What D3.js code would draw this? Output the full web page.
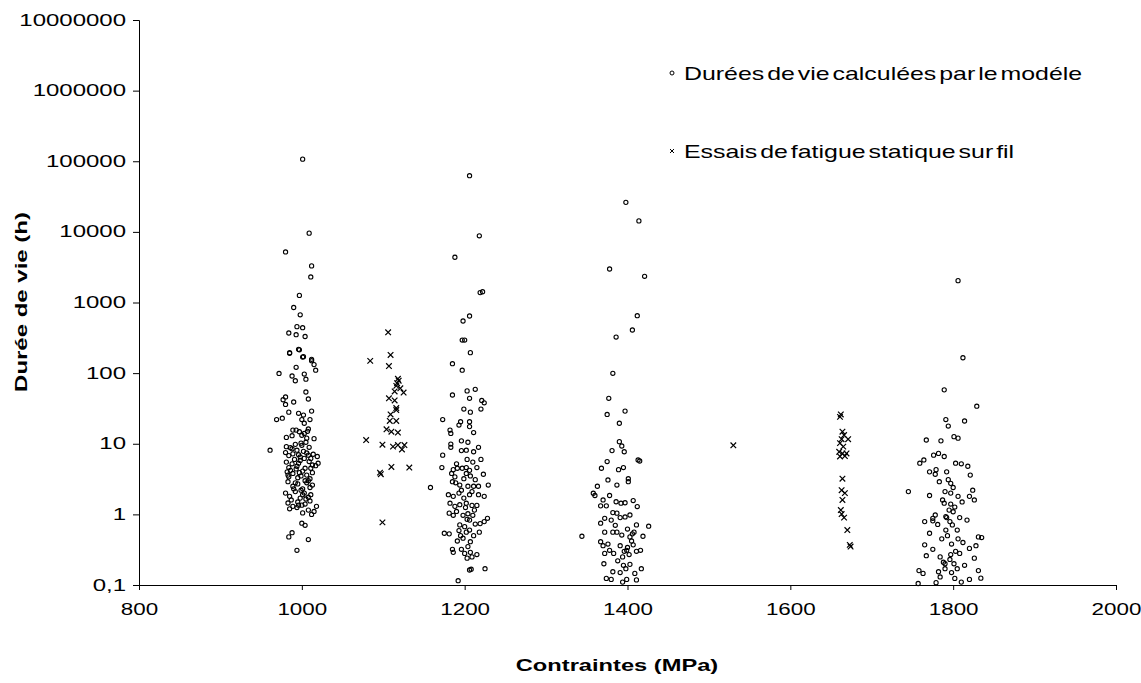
<!DOCTYPE html>
<html><head><meta charset="utf-8">
<script src="https://cdn.jsdelivr.net/npm/d3@7"></script>
<style>
body{margin:0;background:#fff;}
svg{display:block;font-family:"Liberation Sans",Arial,sans-serif;}
.stretch{transform-box:fill-box;transform-origin:center;transform:scaleX(1.4);}
.stretchX{transform-box:fill-box;transform-origin:center;transform:scaleX(1.48);}
.stretchR{transform-box:fill-box;transform-origin:right center;transform:scaleX(1.5);}
.stretchL{transform-box:fill-box;transform-origin:left center;transform:scaleX(1.31);word-spacing:-3px;}
</style></head>
<body>
<svg id="chart" width="1141" height="683"></svg>
<script>
// ---- data ----
const xTickValues = [800, 1000, 1200, 1400, 1600, 1800, 2000];
const yTickValues = [0.1, 1, 10, 100, 1000, 10000, 100000, 1000000, 10000000];
const yTickLabels = ["0,1", "1", "10", "100", "1000", "10000", "100000", "1000000", "10000000"];
const legendLabels = ["Durées de vie calculées par le modéle", "Essais de fatigue statique sur fil"];
const xTitle = "Contraintes (MPa)";
const yTitle = "Durée de vie (h)";

// model-computed lifetimes [stress MPa, life h]
const model1000 = [
 [1001,107000],[1009,9600],[980,5200],[1012,3300],[1011,2300],[997,1260],[990,850],[998,670],
 [994,455],[1001,440],[984,370],[993,350],[1004,330],[985,195],[996,217],[1001,169],[1012,157],
 [985,191],[997,214],[1002,171],[1012,150],[1015,132],[1017,110],[993,121],[972,99],[988,91],
 [1003,97],[992,78],[1005,82],[980,46],[977,42],[990,39],[1005,54],[1008,43],[980,36],[969,22],
 [976,23],[984,28],[996,27],[1002,25.5],[1012,29],[1000,22],[1010,22],[1003,19.5],[989,15.6],
 [993,15.6],[997,14.8],[1008,16.2],[1000,13.2],[981,12.3],[1006,12],[1015,11.8],[961,8.1],
 [981,9.1],[988,8.5],[1000,9.5],[994,8.1],
 [980,7.5],[984,6.8],[989,7.2],[998,6.5],[1002,7.8],[1008,6.9],[1014,7.1],[1019,6.6],
 [981,5.5],[984,4.6],[988,5.2],[994,4.8],[998,5.8],[1004,4.5],[1013,5.0],[1017,4.9],[1020,5.3],
 [982,4.0],[984,3.4],[989,3.8],[995,3.3],[1001,4.1],[1006,3.6],[1010,3.2],[1013,3.9],
 [983,2.9],[989,2.5],[995,2.7],[1001,2.3],[1006,2.8],[1010,2.4],
 [980,2.0],[985,1.8],[992,2.1],[998,1.7],[1001,1.9],[1008,1.75],
 [983,1.45],[989,1.3],[995,1.5],[1000,1.35],[1004,1.4],
 [985,1.2],[1001,1.05],[1008,1.15],[1012,1.0],[1015,1.1],
 [1000,0.75],[1004,0.7],[988,0.55],[984,0.48],[1008,0.44],[994,0.31],
 [986,8.8],[992,9.8],[1005,10.5],[1009,8.9],[999,10.2],[1003,6.2],[991,6.0],[996,5.3],[1009,5.6],
 [983,3.6],[997,3.9],[1004,3.0],[1011,4.5],[992,2.8],[999,2.2],[1013,2.6],[987,1.6],[1005,1.65],
 [1011,1.9],[994,1.25],[1003,14],[1007,15],[988,13],
 [996,7.0],[1006,7.4],[1011,6.2],[986,4.2],[993,4.4],[999,3.5],[1008,3.0],[990,2.3],[1003,2.0],
 [996,1.35],[1010,1.55],[1018,1.3]
];
const model1200 = [
 [1206,62400],[1218,8800],[1188,4370],[1219,1380],[1222,1420],[1198,547],[1206,644],[1197,294],
 [1200,294],[1207,195],[1185,136],[1197,110],
 [1185,49],[1203,56],[1213,59],[1206,44],[1221,41],[1224,38],[1199,31],[1207,28],[1220,31],
 [1173,22],[1195,20.5],[1193,18.4],[1206,20.5],[1206,17.5],[1182,15.6],[1183,14],[1211,14.4],
 [1183,9.9],[1183,8.9],[1196,8],[1202,8.1],[1211,7.7],[1217,8.9],[1203,6],[1220,6],[1173,6.9],
 [1172,4.6],[1186,4.3],[1191,4.5],[1197,4.5],[1202,4.6],[1206,4.2],[1215,4.6],
 [1184,3.8],[1188,3.4],[1202,3.8],[1207,3.5],[1223,3.7],
 [1158,2.4],[1185,2.9],[1189,2.8],[1194,2.6],[1204,2.5],[1211,2.5],[1217,2.5],[1229,2.6],
 [1180,1.9],[1186,1.8],[1193,2.0],[1199,1.7],[1206,1.9],[1217,1.9],[1224,1.8],
 [1182,1.44],[1188,1.3],[1194,1.37],[1202,1.44],[1209,1.34],[1215,1.34],
 [1181,1.04],[1186,0.97],[1198,0.97],[1204,1.02],[1206,0.83],[1210,0.97],[1213,0.73],[1219,0.74],
 [1228,0.88],[1224,0.79],[1194,0.71],[1200,0.67],
 [1175,0.54],[1181,0.53],[1193,0.59],[1202,0.56],[1206,0.6],[1198,0.46],[1218,0.56],
 [1191,0.42],[1207,0.41],[1185,0.32],[1186,0.29],[1196,0.32],[1200,0.28],[1207,0.29],[1209,0.25],
 [1215,0.27],[1203,0.24],[1208,0.167],[1206,0.163],[1225,0.17],[1192,0.115],
 [1196,11],[1204,10.5],[1190,5.2],[1210,5.5],[1199,3.2],[1213,3.1],[1196,2.2],[1209,2.1],
 [1201,1.25],[1190,1.1],[1212,1.15],[1203,0.85],[1195,0.5],[1211,0.5],[1204,0.35]
];
const model1400 = [
 [1398,26200],[1414,14300],[1378,2980],[1421,2350],[1412,650],[1406,408],[1386,324],[1382,99.5],
 [1377,44],[1375,26],[1397,29],[1390,19.5],[1390,10.7],[1393,9.3],[1396,7.7],[1381,8],
 [1413,5.9],[1415,5.7],[1375,5.6],[1368,4.5],[1389,4.3],[1395,4.6],[1376,3.07],[1401,3.2],
 [1401,2.9],[1363,2.5],[1387,2.6],[1358,1.99],[1360,1.85],[1378,1.85],[1370,1.6],[1386,1.51],
 [1392,1.44],[1397,1.46],[1407,1.57],[1367,1.32],[1374,1.32],[1412,1.29],[1382,1.06],[1387,1.04],
 [1372,0.88],[1380,0.83],[1391,0.9],[1397,0.92],[1403,0.98],[1367,0.75],[1411,0.71],[1426,0.68],
 [1344,0.49],[1372,0.56],[1382,0.56],[1387,0.56],[1393,0.51],[1403,0.48],[1406,0.53],[1408,0.56],
 [1419,0.49],[1367,0.41],[1370,0.36],[1376,0.38],[1378,0.31],[1372,0.28],[1383,0.28],[1391,0.36],
 [1394,0.25],[1399,0.31],[1402,0.27],[1407,0.37],[1411,0.3],[1416,0.31],[1371,0.2],[1382,0.154],
 [1391,0.15],[1398,0.17],[1403,0.196],[1409,0.146],[1417,0.17],[1374,0.124],[1380,0.12],
 [1394,0.11],[1399,0.12],[1411,0.118],
 [1396,0.3],[1400,0.34],[1405,0.42],[1388,0.22],[1395,0.19],[1385,0.7],[1400,0.62]
];
const model1800 = [
 [1806,2040],[1789,58],[1791,22],[1794,17.8],[1801,12.6],[1767,11.3],[1785,11],[1759,5.3],
 [1764,5.9],[1776,6.9],[1782,7.3],[1789,6.6],[1803,5.3],[1771,4.0],[1779,4.3],[1778,3.7],
 [1783,2.9],[1792,4.0],[1794,3.1],[1797,2.75],[1745,2.1],[1771,1.85],[1790,2.1],[1797,2.0],
 [1806,1.8],[1789,1.44],[1797,1.4],[1802,1.27],[1800,1.09],[1765,0.79],[1775,0.88],[1775,0.81],
 [1778,0.98],[1791,0.93],[1796,0.79],[1799,0.71],[1805,0.6],[1791,0.6],[1771,0.54],[1765,0.37],
 [1775,0.32],[1767,0.26],[1788,0.21],[1790,0.2],[1796,0.23],[1801,0.2],[1758,0.16],[1763,0.146],
 [1782,0.154],[1790,0.17],[1798,0.15],[1805,0.17],[1784,0.13],[1802,0.124],[1757,0.105],[1779,0.108],
 [1812,165],[1814,21],[1829,34],[1806,12],[1810,5.2],[1818,4.8],[1821,3.6],[1824,2.2],[1820,1.8],
 [1811,1.5],[1826,1.6],[1817,0.83],[1808,0.9],[1831,0.48],[1835,0.47],[1820,0.33],[1812,0.4],
 [1826,0.24],[1831,0.16],[1814,0.19],[1808,0.28],[1834,0.125],[1820,0.12],[1810,0.11],[1828,0.36],
 [1786,0.45],[1793,0.5],[1798,0.38],[1803,0.3],[1781,0.72],[1795,1.15],[1787,1.6],[1800,2.4],
 [1784,0.25],[1797,0.27],[1806,0.45],[1792,0.9]
];
// static fatigue tests on wire [stress MPa, life h]
const tests = [
 [1106,378],[1109,181],[1084,149],[1107,126],[1118,83],[1116,66],[1121,61],[1125,53],[1114,55],
 [1107,44],[1114,41],[1116,32],[1116,30],[1109,26],[1108,21],[1116,21],[1104,16],[1110,14.8],
 [1118,14.4],[1079,11.3],[1099,9.7],[1112,9.1],[1118,9.6],[1126,9.6],[1123,8.3],[1110,4.7],
 [1132,4.6],[1096,3.9],[1097,3.7],[1099,0.77],[1119,78],[1117,72],
 [1530,9.5],
 [1662,26],[1661,24],[1664,14.8],[1666,13.3],[1671,11.6],[1663,11.6],[1661,10.2],[1665,9.1],
 [1660,7.7],[1664,7.3],[1669,7.3],[1667,6.7],[1661,6.6],[1664,3.2],[1663,2.2],[1667,2.0],
 [1664,1.6],[1662,1.15],[1663,1.01],[1666,0.9],[1670,0.6],[1673,0.37],[1674,0.35]
];
const modelAll = model1000.concat(model1200, model1400, model1800);

// ---- chart ----
const svg = d3.select("#chart");
const x = d3.scaleLinear().domain([800, 2000]).range([139, 1116]);
const y = d3.scaleLog().domain([0.1, 10000000]).range([585, 20]);

const xAxis = svg.append("g").attr("transform", "translate(0,585)")
  .call(d3.axisBottom(x).tickValues(xTickValues).tickSizeOuter(0).tickSize(5).tickPadding(14)
    .tickFormat(d3.format("d")));
const yAxis = svg.append("g").attr("transform", "translate(139,0)")
  .call(d3.axisLeft(y).tickValues(yTickValues).tickSizeOuter(0).tickSize(6).tickPadding(7)
    .tickFormat((d, i) => yTickLabels[i]));
[xAxis, yAxis].forEach(g => {
  g.select(".domain").attr("stroke", "#000").attr("stroke-width", 1);
  g.selectAll(".tick line").attr("stroke", "#000");
  g.selectAll(".tick text").attr("fill", "#000").style("font-size", "16px")
   .style("font-family", '"Liberation Sans",Arial,sans-serif');
});
xAxis.selectAll(".tick text").attr("class", "stretch");
yAxis.selectAll(".tick text").attr("class", "stretchR");

// model points
svg.append("g").selectAll("circle").data(modelAll).join("circle")
  .attr("cx", d => x(d[0])).attr("cy", d => y(d[1])).attr("r", 2.1)
  .attr("fill", "none").attr("stroke", "#000").attr("stroke-width", 1.1);

// test points
const xm = "M-2.8,-2.8L2.8,2.8M-2.8,2.8L2.8,-2.8";
svg.append("g").selectAll("path").data(tests).join("path")
  .attr("transform", d => `translate(${x(d[0])},${y(d[1])})`)
  .attr("d", xm).attr("fill", "none").attr("stroke", "#000").attr("stroke-width", 1.2);

// titles
svg.append("text").attr("class", "stretchX").attr("x", 617).attr("y", 671)
  .attr("text-anchor", "middle").attr("font-weight", "bold").attr("font-size", 16).text(xTitle);
svg.append("text").attr("transform", "translate(27,302) rotate(-90) scale(1.5,1.0)")
  .attr("text-anchor", "middle").attr("font-weight", "bold").attr("font-size", 16).text(yTitle);

// legend
const leg = svg.append("g");
leg.append("circle").attr("cx", 672).attr("cy", 73).attr("r", 2).attr("fill", "none")
  .attr("stroke", "#000").attr("stroke-width", 1);
leg.append("text").attr("class", "stretchL").attr("x", 684).attr("y", 80).attr("font-size", 19).text(legendLabels[0]);
leg.append("path").attr("transform", "translate(672,151)").attr("d", "M-2,-2L2,2M-2,2L2,-2")
  .attr("stroke", "#000").attr("stroke-width", 1);
leg.append("text").attr("class", "stretchL").attr("x", 684).attr("y", 158).attr("font-size", 19).text(legendLabels[1]);
</script>
</body></html>
